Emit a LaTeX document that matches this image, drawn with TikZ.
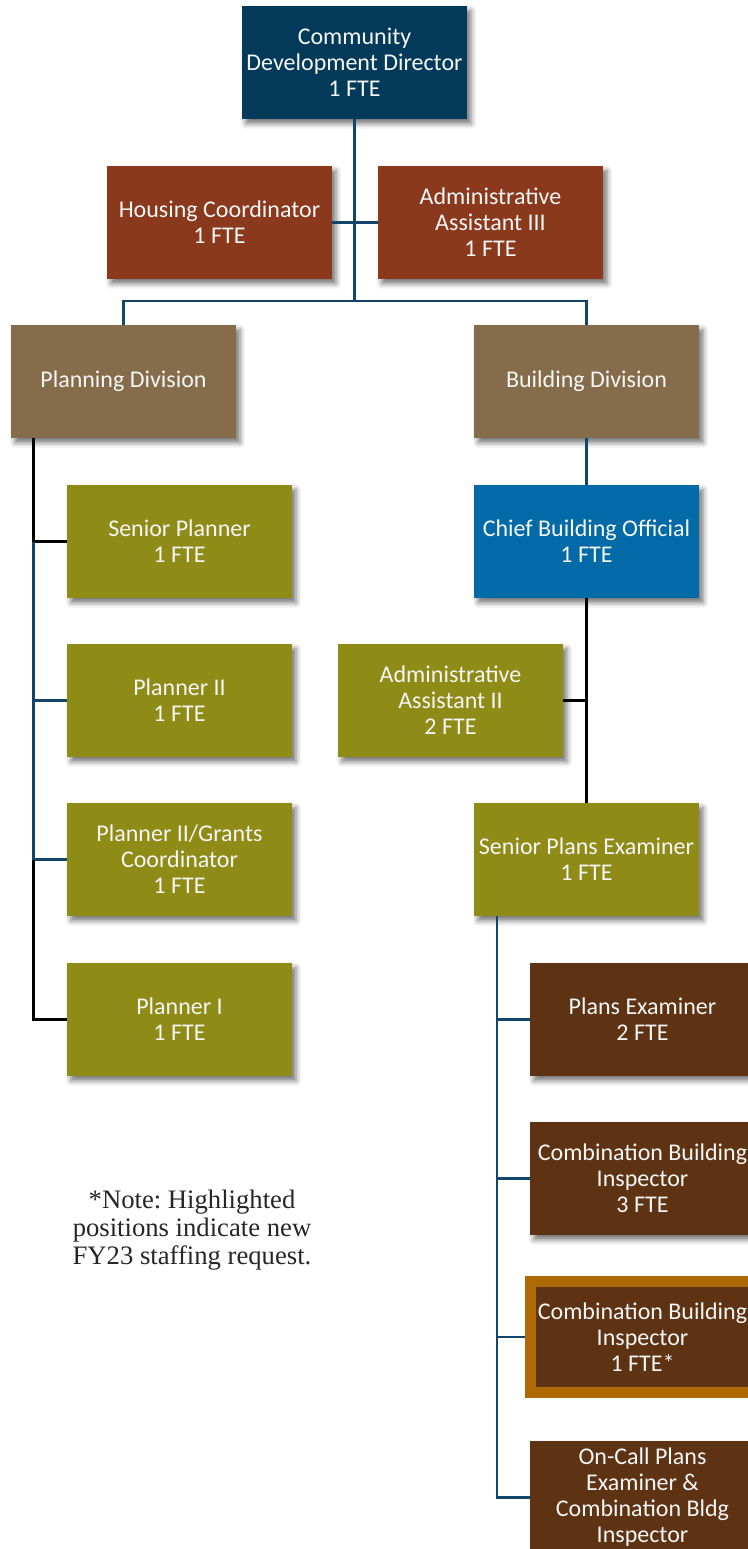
\documentclass[tikz,border=0pt]{standalone}
\usepackage{fontspec}
\setmainfont{Carlito}
\newfontfamily\notefont{Liberation Serif}
\usetikzlibrary{shadows.blur}
\frenchspacing

\definecolor{dirblue}{HTML}{033A5A}
\definecolor{rust}{HTML}{8A391C}
\definecolor{divbrown}{HTML}{856C4B}
\definecolor{olive}{HTML}{8E8B16}
\definecolor{chiefblue}{HTML}{026AA7}
\definecolor{darkbrown}{HTML}{5E3314}
\definecolor{newpos}{HTML}{B06A05}
\definecolor{linenavy}{HTML}{11466A}
\definecolor{boxtext}{HTML}{F6F6F6}

\tikzset{
  orgbox/.style={rectangle, minimum width=168.75pt, minimum height=84.75pt,
    inner sep=2pt, align=center, text=boxtext,
    font=\fontsize{18}{19.5}\selectfont,
    blur shadow={shadow xshift=3pt, shadow yshift=-3.5pt, shadow blur radius=4pt,
      shadow opacity=55}},
  newbox/.style={rectangle, minimum width=168pt, minimum height=83.25pt,
    inner sep=2pt, align=center, text=boxtext, fill=darkbrown,
    draw=newpos, line width=8.25pt,
    font=\fontsize{18}{19.5}\selectfont},
  navyline/.style={draw=linenavy, line width=1.9pt},
  blackline/.style={draw=black, line width=1.9pt},
}

\begin{document}
\begin{tikzpicture}[x=0.75pt, y=-0.75pt]
\useasboundingbox (0,0) rectangle (748,1549);

% junction points of the connector tree
\coordinate (bus) at (354.5,301);
\coordinate (ps) at (33.5,438);
\coordinate (rs) at (497,916);

% --- boxes ---
\node[orgbox, fill=dirblue]   (dir)   at (354.5,62.5)   {Community\\Development Director\\1 FTE};
\node[orgbox, fill=rust]      (house) at (219.5,222.5)  {Housing Coordinator\\1 FTE};
\node[orgbox, fill=rust]      (adm3)  at (490.5,222.5)  {Administrative\\Assistant III\\1 FTE};
\node[orgbox, fill=divbrown]  (plan)  at (123.5,381.5)  {Planning Division};
\node[orgbox, fill=divbrown]  (bld)   at (586.5,381.5)  {Building Division};

\node[orgbox, fill=olive]     (sp)    at (179.5,541.5)  {Senior Planner\\1 FTE};
\node[orgbox, fill=olive]     (p2)    at (179.5,700.5)  {Planner II\\1 FTE};
\node[orgbox, fill=olive]     (p2g)   at (179.5,859.5)  {Planner II/Grants\\Coordinator\\1 FTE};
\node[orgbox, fill=olive]     (p1)    at (179.5,1019.5) {Planner I\\1 FTE};

\node[orgbox, fill=chiefblue] (cbo)   at (586.5,541.5)  {Chief Building Official\\1 FTE};
\node[orgbox, fill=olive]     (aa2)   at (450.5,700.5)  {Administrative\\Assistant II\\2 FTE};
\node[orgbox, fill=olive]     (spe)   at (586.5,859.5)  {Senior Plans Examiner\\1 FTE};

\node[orgbox, fill=darkbrown] (pe)    at (642.5,1019.5) {Plans Examiner\\2 FTE};
\node[orgbox, fill=darkbrown] (cbi3)  at (642.5,1178.5) {Combination Building\\Inspector\\3 FTE};
\node[newbox]                 (cbi1)  at (642.5,1337)   {Combination Building\\Inspector\\1 FTE*};
\node[orgbox, fill=darkbrown] (oc)    at (642.5,1497.5) {On-Call Plans\\Examiner \&\\Combination Bldg\\Inspector};

% --- connectors ---
\draw[navyline] (dir.south) -- (bus);
\draw[navyline] (house.east) -- (adm3.west);
\draw[navyline] (plan.north) |- (bus) -| (bld.north);
\draw[navyline] (bld.south) -- (cbo.north);

% planning branch
\draw[blackline] (ps) |- (sp.west);
\draw[navyline] (ps |- sp.west) -- (ps |- p2g.west);
\draw[navyline] (ps |- p2.west) -- (p2.west);
\draw[navyline] (ps |- p2g.west) -- (p2g.west);
\draw[blackline] (ps |- p2g.west) |- (p1.west);

% building branch
\draw[blackline] (cbo.south) -- (spe.north);
\draw[blackline] (aa2.east) -- (aa2.east -| cbo.south);
\draw[navyline] (rs) |- (oc.west);
\draw[navyline] (rs |- pe.west) -- (pe.west);
\draw[navyline] (rs |- cbi3.west) -- (cbi3.west);
\draw[navyline] (rs |- cbi1.west) -- (cbi1.west);

% note
\node[font=\notefont\fontsize{20}{21}\selectfont, text=black!85, align=center]
  (note) at (192,1230) {*Note: Highlighted\\positions indicate new\\FY23 staffing request.};
\end{tikzpicture}
\end{document}
